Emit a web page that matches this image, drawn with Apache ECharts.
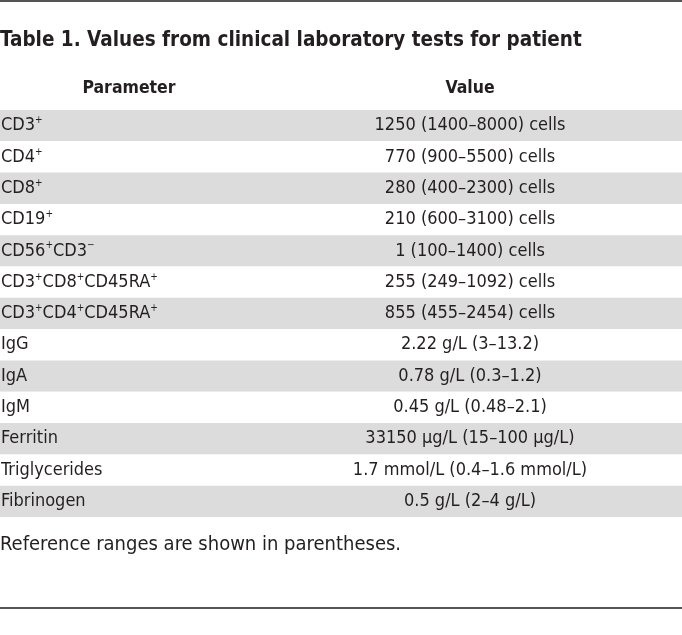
<!DOCTYPE html>
<html>
<head>
<meta charset="utf-8">
<script src="https://cdn.jsdelivr.net/npm/echarts@6/dist/echarts.min.js"></script>
<style>html,body{margin:0;padding:0;background:#fff;}#chart{width:682px;height:635px;}</style>
</head>
<body>
<div id="chart"></div>
<script>
const titleText = 'Table 1. Values from clinical laboratory tests for patient';
const headers = ['Parameter', 'Value'];
const parameters = ['CD3⁺', 'CD4⁺', 'CD8⁺', 'CD19⁺', 'CD56⁺CD3⁻', 'CD3⁺CD8⁺CD45RA⁺', 'CD3⁺CD4⁺CD45RA⁺',
  'IgG', 'IgA', 'IgM', 'Ferritin', 'Triglycerides', 'Fibrinogen'];
const values = ['1250 (1400–8000) cells', '770 (900–5500) cells', '280 (400–2300) cells', '210 (600–3100) cells',
  '1 (100–1400) cells', '255 (249–1092) cells', '855 (455–2454) cells', '2.22 g/L (3–13.2)', '0.78 g/L (0.3–1.2)',
  '0.45 g/L (0.48–2.1)', '33150 μg/L (15–100 μg/L)', '1.7 mmol/L (0.4–1.6 mmol/L)', '0.5 g/L (2–4 g/L)'];
const footnote = 'Reference ranges are shown in parentheses.';

const FONT = '"Liberation Sans Narrow", "DejaVu Sans Condensed", sans-serif';
const TXT = '#231f20';
const FS = 18;
const VALUE_X = 470;
const PARAM_X = 129;

function wrapLabel(s) {
  let out = '';
  let buf = '';
  for (const ch of s) {
    if (ch === '⁺' || ch === '⁻') {
      if (buf) { out += '{n|' + buf + '}'; buf = ''; }
      out += '{s|' + (ch === '⁺' ? '+' : '−') + '}';
    } else buf += ch;
  }
  if (buf) out += '{n|' + buf + '}';
  return out;
}

const chart = echarts.init(document.getElementById('chart'), null, { renderer: 'canvas' });
chart.setOption({
  animation: false,
  backgroundColor: '#fff',
  textStyle: { fontFamily: FONT, color: TXT },
  title: [
    { text: titleText, left: 0, top: 30, padding: 0,
      textStyle: { fontFamily: FONT, fontSize: 20.5, fontWeight: 'bold', color: TXT } },
    { text: headers[0], left: PARAM_X, top: 79, padding: 0, textAlign: 'center',
      textStyle: { fontFamily: FONT, fontSize: 17.5, fontWeight: 'bold', color: TXT } },
    { text: headers[1], left: VALUE_X, top: 79, padding: 0, textAlign: 'center',
      textStyle: { fontFamily: FONT, fontSize: 17.5, fontWeight: 'bold', color: TXT } },
    { text: footnote, left: 0, top: 535, padding: 0,
      textStyle: { fontFamily: FONT, fontSize: 20, fontWeight: 'normal', color: TXT } }
  ],
  graphic: [
    { type: 'rect', shape: { x: 0, y: 0, width: 682, height: 2 }, style: { fill: '#555' } },
    { type: 'rect', shape: { x: 0, y: 607, width: 682, height: 2 }, style: { fill: '#555' } }
  ],
  grid: { left: 0, right: 0, top: 110, height: 407, containLabel: false, outerBoundsMode: 'none' },
  xAxis: { type: 'value', min: 0, max: 682, show: false },
  yAxis: {
    type: 'category', inverse: true, data: parameters,
    axisLine: { show: false }, axisTick: { show: false }, splitLine: { show: false },
    splitArea: { show: true, areaStyle: { color: ['#dcdcdc', '#ffffff'] } },
    axisLabel: {
      inside: true, margin: 1, align: 'left',
      formatter: function (v) { return wrapLabel(v); },
      rich: {
        n: { fontFamily: FONT, fontSize: FS, color: TXT, lineHeight: 20 },
        s: { fontFamily: FONT, fontSize: 10, color: TXT, lineHeight: 20, verticalAlign: 'top', padding: [0, 0, 7, 0] }
      }
    }
  },
  series: [{
    type: 'scatter', symbolSize: 0, silent: true,
    itemStyle: { opacity: 1 },
    data: values.map(function (v, i) { return { value: [VALUE_X, i], name: v }; }),
    label: { show: true, position: 'inside', formatter: '{b}', fontFamily: FONT, fontSize: FS,
      color: TXT, opacity: 1, textBorderWidth: 0 }
  }]
});
</script>
</body>
</html>
